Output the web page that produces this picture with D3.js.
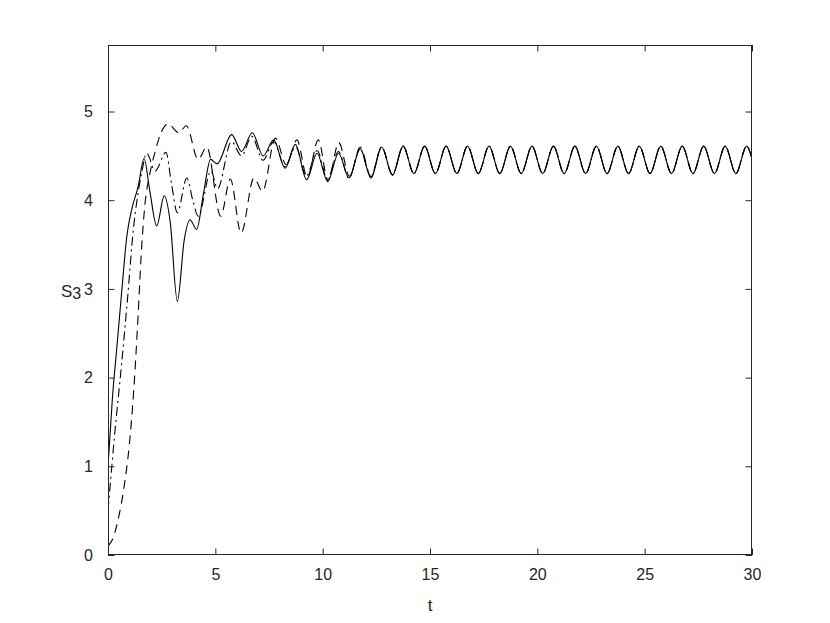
<!DOCTYPE html>
<html><head><meta charset="utf-8">
<script src="https://cdn.jsdelivr.net/npm/d3@7/dist/d3.min.js"></script>
<style>body{margin:0;background:#fff}svg{display:block}</style>
</head><body><svg id="c" width="830" height="623"></svg>
<script>
// ---- data ----
const xTicks = [0, 5, 10, 15, 20, 25, 30];
const yTicks = [0, 1, 2, 3, 4, 5];
const xLabel = "t";
const yLabel = "S";
const yLabelSub = "3";

// common limit cycle (after transients), peaks/troughs
const cycleT = [14.75,15.25,15.75,16.25,16.75,17.25,17.75,18.25,18.75,19.25,19.75,20.25,20.75,21.25,21.75,22.25,22.75,23.25,23.75,24.25,24.75,25.25,25.75,26.25,26.75,27.25,27.75,28.25,28.75,29.25,29.75,30];
const cycleS = [4.61,4.30,4.61,4.30,4.61,4.30,4.61,4.30,4.61,4.30,4.61,4.30,4.61,4.30,4.61,4.30,4.61,4.30,4.61,4.30,4.61,4.30,4.61,4.30,4.61,4.30,4.61,4.30,4.61,4.30,4.61,4.47];

// solid series
const solidT = [0,0.2,0.43,0.65,0.88,1.1,1.41,1.68,1.95,2.27,2.62,2.9,3.23,3.55,3.82,4.13,4.45,4.78,5.08,5.76,6.22,6.72,7.23,7.72,8.25,8.73,9.25,9.74,10.23,10.74,11.23,11.75,12.25,12.75,13.25,13.75,14.25];
const solidS = [1.0,1.75,2.39,3.0,3.6,3.89,4.16,4.47,4.1,3.71,4.05,3.75,2.86,3.55,3.78,3.67,4.08,4.46,4.41,4.74,4.55,4.76,4.50,4.68,4.36,4.63,4.23,4.53,4.21,4.53,4.25,4.58,4.25,4.60,4.28,4.61,4.30];

// dash-dot series
const dashDotT = [0,0.33,0.64,0.92,1.18,1.35,1.57,1.8,2.2,2.7,2.95,3.23,3.67,3.95,4.2,4.8,5.1,5.75,6.22,6.7,7.22,7.72,8.24,8.74,9.24,9.74,10.22,10.74,11.22,11.74,12.24,12.75,13.25,13.75,14.25];
const dashDotS = [0.5,1.41,2.17,2.92,3.67,4.0,4.31,4.53,4.33,4.54,4.2,3.86,4.25,4.0,3.82,4.33,4.13,4.66,4.50,4.72,4.45,4.66,4.38,4.60,4.27,4.56,4.24,4.55,4.25,4.58,4.26,4.60,4.29,4.61,4.30];

// dashed series
const dashedT = [0,0.25,0.5,0.75,1.0,1.2,1.4,1.55,1.72,1.95,2.2,2.45,2.8,3.3,3.65,4.2,4.6,5.25,5.7,6.2,6.8,7.2,7.8,8.3,8.8,9.28,9.8,10.25,10.75,11.25,11.75,12.25,12.75,13.25,13.75,14.25];
const dashedS = [0.1,0.2,0.43,0.77,1.26,1.86,2.69,3.4,3.95,4.3,4.55,4.75,4.86,4.76,4.84,4.46,4.6,3.82,4.24,3.63,4.25,4.1,4.7,4.4,4.68,4.26,4.68,4.22,4.65,4.27,4.6,4.27,4.6,4.29,4.61,4.30];

// ---- drawing ----
const svg = d3.select("#c");
const L = 108, R = 752, T = 45, B = 555;
const x = d3.scaleLinear().domain([0, 30]).range([L, R]);
const y = d3.scaleLinear().domain([0, 5.75]).range([B, T]);
const axisColor = "#262626";
const font = "'Liberation Sans', Arial, Helvetica, sans-serif";

function pts(ts, ss) { return ts.map((t, i) => [t, ss[i]]); }
const line = d3.line().x(d => x(d[0])).y(d => y(d[1])).curve(d3.curveMonotoneX);

const series = [
  {data: pts(dashedT, dashedS).concat(pts(cycleT, cycleS)), dash: "9,6"},
  {data: pts(dashDotT, dashDotS).concat(pts(cycleT, cycleS)), dash: "9,4,2,4"},
  {data: pts(solidT, solidS).concat(pts(cycleT, cycleS)), dash: null}
];

svg.append("clipPath").attr("id", "clip").append("rect")
  .attr("x", L).attr("y", T).attr("width", R - L).attr("height", B - T);

const g = svg.append("g").attr("clip-path", "url(#clip)");
series.forEach(s => {
  g.append("path").attr("d", line(s.data))
    .attr("fill", "none").attr("stroke", "#000").attr("stroke-width", 1.1)
    .attr("stroke-dasharray", s.dash);
});

// axes
const tl = 6.5;
const fmt = d3.format("d");
svg.append("g").attr("transform", `translate(0,${B})`)
  .call(d3.axisBottom(x).tickValues(xTicks).tickFormat(fmt).tickSizeInner(-tl).tickSizeOuter(0).tickPadding(14))
  .call(a => a.select(".domain").remove());
svg.append("g").attr("transform", `translate(0,${T})`)
  .call(d3.axisTop(x).tickValues(xTicks).tickSizeInner(-tl).tickSizeOuter(0).tickFormat(""))
  .call(a => a.select(".domain").remove());
svg.append("g").attr("transform", `translate(${L},0)`)
  .call(d3.axisLeft(y).tickValues(yTicks).tickFormat(fmt).tickSizeInner(-tl).tickSizeOuter(0).tickPadding(15))
  .call(a => a.select(".domain").remove());
svg.append("g").attr("transform", `translate(${R},0)`)
  .call(d3.axisRight(y).tickValues(yTicks).tickSizeInner(-tl).tickSizeOuter(0).tickFormat(""))
  .call(a => a.select(".domain").remove());

svg.selectAll(".tick line").attr("stroke", axisColor).attr("stroke-width", 1);
svg.selectAll(".tick text").attr("fill", axisColor).style("font-family", font).style("font-size", "16px");

svg.append("rect").attr("x", L + 0.5).attr("y", T + 0.5).attr("width", R - L - 1).attr("height", B - T - 1)
  .attr("fill", "none").attr("stroke", axisColor).attr("stroke-width", 1);

svg.append("text").attr("x", (L + R) / 2).attr("y", 611).attr("text-anchor", "middle")
  .attr("fill", axisColor).style("font-family", font).style("font-size", "17px").text(xLabel);

const yl = svg.append("text").attr("x", 61).attr("y", 297)
  .attr("fill", axisColor).style("font-family", font).style("font-size", "17px");
yl.append("tspan").text(yLabel);
yl.append("tspan").attr("dy", 2).style("font-size", "16px").text(yLabelSub);
</script></body></html>
